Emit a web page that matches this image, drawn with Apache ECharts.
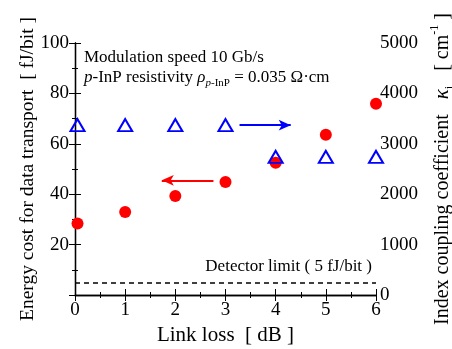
<!DOCTYPE html>
<html>
<head>
<meta charset="utf-8">
<script src="https://cdn.jsdelivr.net/npm/echarts@6/dist/echarts.min.js"></script>
<style>
  html, body { margin: 0; padding: 0; background: #fff; }
  #chart { width: 452px; height: 349px; }
</style>
</head>
<body>
<div id="chart"></div>
<script>
// data
const linkLoss = [0.05, 1, 2, 3, 4, 5, 6];
const energyCost = [28.4, 32.9, 39.3, 44.8, 52.5, 63.6, 75.9];
const couplingCoef = [3370, 3370, 3370, 3370, 2740, 2740, 2740];
const detectorLimit = 5;
const redArrow = [[2.76, 45.5], [1.73, 45.5]];
const blueArrow = [[3.28, 3370], [4.3, 3370]];

const FONT = '"Liberation Serif", "DejaVu Serif", serif';

var myChart = echarts.init(document.getElementById('chart'));

const tick = { show: true, inside: true, length: 6, lineStyle: { color: '#000', width: 1 } };
const minor = { show: true, splitNumber: 2, length: 3, lineStyle: { color: '#000', width: 1 } };
const line = { show: true, lineStyle: { color: '#000', width: 1.3 } };

var option = {
  backgroundColor: '#fff',
  animation: false,
  grid: { left: 75, right: 76, top: 43, bottom: 54, outerBoundsMode: 'none', containLabel: false },
  xAxis: [
    {
      type: 'value', min: 0, max: 6, interval: 1,
      name: 'Link loss  [ dB ]', nameLocation: 'middle', nameGap: 29,
      nameTextStyle: { fontFamily: FONT, fontSize: 21, color: '#000' },
      axisLine: line, axisTick: tick, minorTick: minor, splitLine: { show: false },
      axisLabel: { fontFamily: FONT, fontSize: 19, color: '#000', margin: 6 }
    },
    {
      type: 'value', position: 'top', min: 0, max: 6, interval: 1,
      axisLine: line, axisTick: tick, minorTick: minor, splitLine: { show: false },
      axisLabel: { show: false }
    }
  ],
  yAxis: [
    {
      type: 'value', min: 0, max: 100, interval: 20,
      name: 'Energy cost for data transport  [ fJ/bit ]', nameLocation: 'middle',
      nameGap: 37, nameMoveOverlap: false,
      nameTextStyle: { fontFamily: FONT, fontSize: 19.5, color: '#000' },
      axisLine: line, axisTick: tick, minorTick: minor, splitLine: { show: false },
      axisLabel: {
        fontFamily: FONT, fontSize: 19, color: '#000', margin: 6,
        formatter: v => (v === 0 ? '' : String(v))
      }
    },
    {
      type: 'value', min: 0, max: 5000, interval: 1000,
      name: '{t|Index coupling coefficient   }{k|κ}{s|i}{t|   [ cm}{p|-1}{t| ]}',
      nameLocation: 'middle', nameGap: 52, nameRotate: 90,
      nameTextStyle: {
        fontFamily: FONT, fontSize: 20, color: '#000',
        rich: {
          t: { fontFamily: FONT, fontSize: 20, color: '#000', lineHeight: 24, verticalAlign: 'bottom' },
          k: { fontFamily: FONT, fontSize: 21, fontStyle: 'italic', color: '#000', lineHeight: 24, verticalAlign: 'bottom' },
          s: { fontFamily: FONT, fontSize: 12, color: '#000', lineHeight: 24, verticalAlign: 'bottom', padding: [0, 0, -3, 0] },
          p: { fontFamily: FONT, fontSize: 12, color: '#000', lineHeight: 24, verticalAlign: 'top' }
        }
      },
      axisLine: line, axisTick: tick, minorTick: minor, splitLine: { show: false },
      axisLabel: { fontFamily: FONT, fontSize: 19, color: '#000', margin: 4, formatter: v => String(v) }
    }
  ],
  graphic: [
    {
      type: 'text', left: 84, top: 49,
      style: { text: 'Modulation speed 10 Gb/s', fontFamily: FONT, fontSize: 17, fill: '#000' }
    },
    {
      type: 'text', left: 84, top: 69,
      style: {
        text: '{i|p}{t|-InP resistivity }{i|ρ}{si|p}{s|-InP}{t| = 0.035 Ω·cm}',
        rich: {
          t: { fontFamily: FONT, fontSize: 17, fill: '#000', lineHeight: 21, verticalAlign: 'bottom' },
          i: { fontFamily: FONT, fontSize: 17, fontStyle: 'italic', fill: '#000', lineHeight: 21, verticalAlign: 'bottom' },
          si: { fontFamily: FONT, fontSize: 11, fontStyle: 'italic', fill: '#000', lineHeight: 21, verticalAlign: 'bottom', padding: [0, 0, -3, 0] },
          s: { fontFamily: FONT, fontSize: 11, fill: '#000', lineHeight: 21, verticalAlign: 'bottom', padding: [0, 0, -3, 0] }
        }
      }
    },
    {
      type: 'text', right: 80, top: 258,
      style: { text: 'Detector limit ( 5 fJ/bit )', fontFamily: FONT, fontSize: 17, fill: '#000' }
    }
  ],
  series: [
    {
      name: 'Energy cost', type: 'scatter', xAxisIndex: 0, yAxisIndex: 0,
      symbol: 'circle', symbolSize: 12,
      itemStyle: { color: '#ff0000', opacity: 1 },
      data: linkLoss.map((x, i) => [x, energyCost[i]]),
      markLine: {
        silent: true, animation: false,
        label: { show: false },
        data: [
          [
            { coord: [0, detectorLimit], symbol: 'none', lineStyle: { color: '#000', type: [5, 4], width: 1.5 } },
            { coord: [6, detectorLimit], symbol: 'none' }
          ],
          [
            { coord: redArrow[0], symbol: 'none', lineStyle: { color: '#ff0000', type: 'solid', width: 2 } },
            { coord: redArrow[1], symbol: 'arrow', symbolSize: [8, 12] }
          ]
        ]
      },
      z: 3
    },
    {
      name: 'Coupling coefficient', type: 'scatter', xAxisIndex: 0, yAxisIndex: 1,
      symbol: 'triangle', symbolSize: [14, 12],
      itemStyle: { color: 'rgba(255,255,255,0)', borderColor: '#0000ff', borderWidth: 2, opacity: 1 },
      data: linkLoss.map((x, i) => [x, couplingCoef[i]]),
      markLine: {
        silent: true, animation: false,
        label: { show: false },
        data: [
          [
            { coord: blueArrow[0], symbol: 'none', lineStyle: { color: '#0000ff', type: 'solid', width: 2 } },
            { coord: blueArrow[1], symbol: 'arrow', symbolSize: [8, 12] }
          ]
        ]
      },
      z: 4
    }
  ]
};

option && myChart.setOption(option);
</script>
</body>
</html>
